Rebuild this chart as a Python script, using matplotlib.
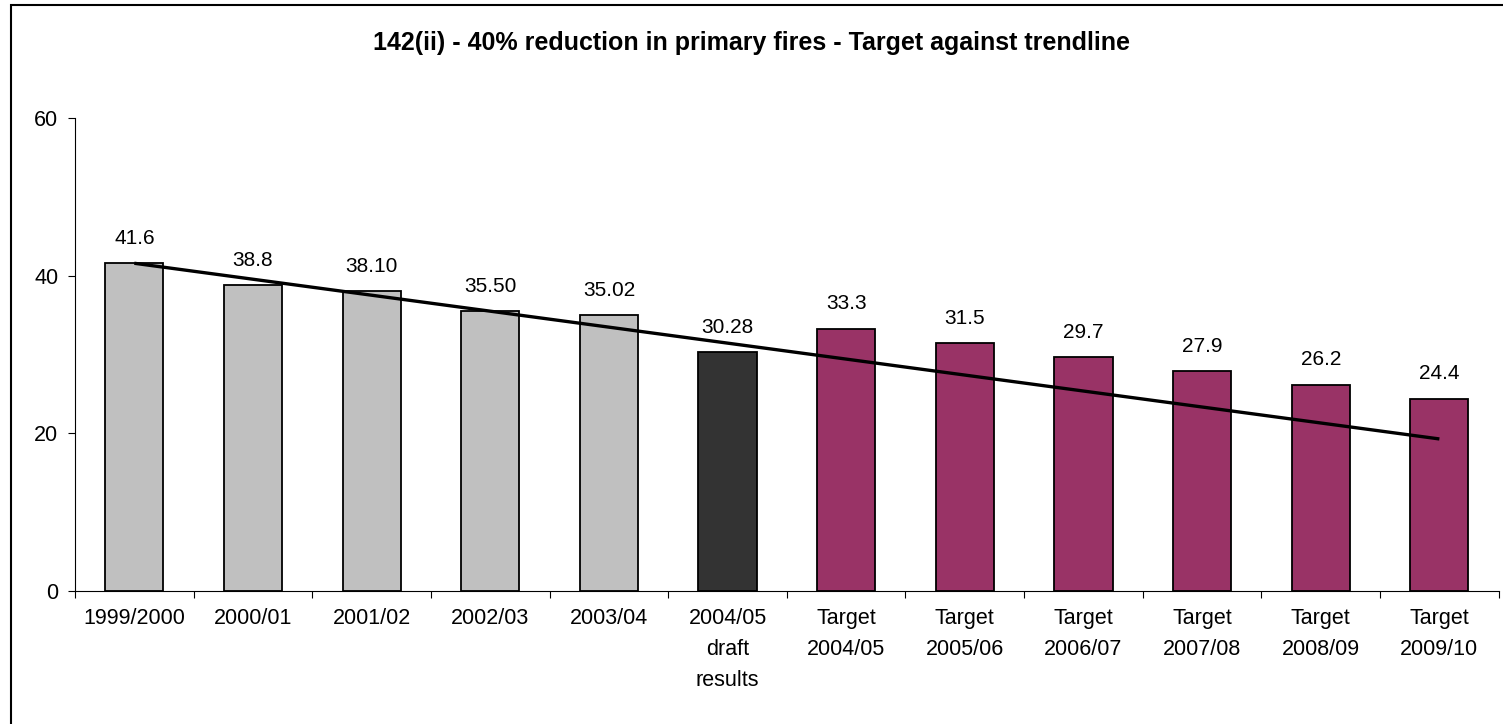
import numpy as np
import matplotlib
matplotlib.use("Agg")
import matplotlib.pyplot as plt
from matplotlib.patches import Rectangle

categories = ["1999/2000", "2000/01", "2001/02", "2002/03", "2003/04",
              "2004/05\ndraft\nresults", "Target\n2004/05", "Target\n2005/06",
              "Target\n2006/07", "Target\n2007/08", "Target\n2008/09", "Target\n2009/10"]
values = [41.6, 38.8, 38.10, 35.50, 35.02, 30.28, 33.3, 31.5, 29.7, 27.9, 26.2, 24.4]
value_labels = ["41.6", "38.8", "38.10", "35.50", "35.02", "30.28",
                "33.3", "31.5", "29.7", "27.9", "26.2", "24.4"]
bar_colors = ["#C0C0C0"] * 5 + ["#333333"] + ["#993366"] * 6
# straight trendline from first to last category
trend_start = 41.6
trend_end = 19.3

plt.rcParams['font.family'] = ['Liberation Sans', 'DejaVu Sans']

fig = plt.figure(figsize=(15.03, 7.24), dpi=100)
W, H = 1503, 724
ax = fig.add_axes([75 / W, (H - 591) / H, (1498.7 - 75) / W, (591 - 118.3) / H])

x = np.arange(len(categories))
ax.bar(x, values, width=0.49, color=bar_colors, edgecolor="black", linewidth=1.3, zorder=2)
ax.plot([x[0], x[-1]], [trend_start, trend_end], color="black", linewidth=2.4,
        solid_capstyle="butt", zorder=3)

for xi, v, lab in zip(x, values, value_labels):
    ax.annotate(lab, (xi, v), xytext=(0, 11), textcoords="offset points",
                ha="center", va="bottom", fontsize=15)

ax.set_xlim(-0.5, len(categories) - 0.5)
ax.set_ylim(0, 60)
ax.set_yticks([0, 20, 40, 60])
ax.tick_params(axis="y", direction="out", length=5, width=0.8, labelsize=15.5, pad=7)

ax.set_xticks(x)
ax.set_xticklabels(categories, fontsize=15.5, linespacing=1.65, va="top")
ax.set_xticks(np.arange(-0.5, len(categories)), minor=True)
ax.tick_params(axis="x", which="major", length=0, pad=12)
ax.tick_params(axis="x", which="minor", direction="out", length=5, width=0.8)

for s in ["top", "right"]:
    ax.spines[s].set_visible(False)
ax.spines["left"].set_linewidth(0.8)
ax.spines["bottom"].set_linewidth(0.8)

fig.text(0.5, (H - 50) / H, "142(ii) - 40% reduction in primary fires - Target against trendline",
         ha="center", va="baseline", fontsize=18, fontweight="bold")

# outer chart frame (extends past right and bottom edges)
fig.patches.append(Rectangle((11 / W, -0.05), 1.1, (H - 5) / H + 0.05, transform=fig.transFigure,
                             fill=False, edgecolor="black", linewidth=1.5))

fig.savefig("out.png", dpi=100)
